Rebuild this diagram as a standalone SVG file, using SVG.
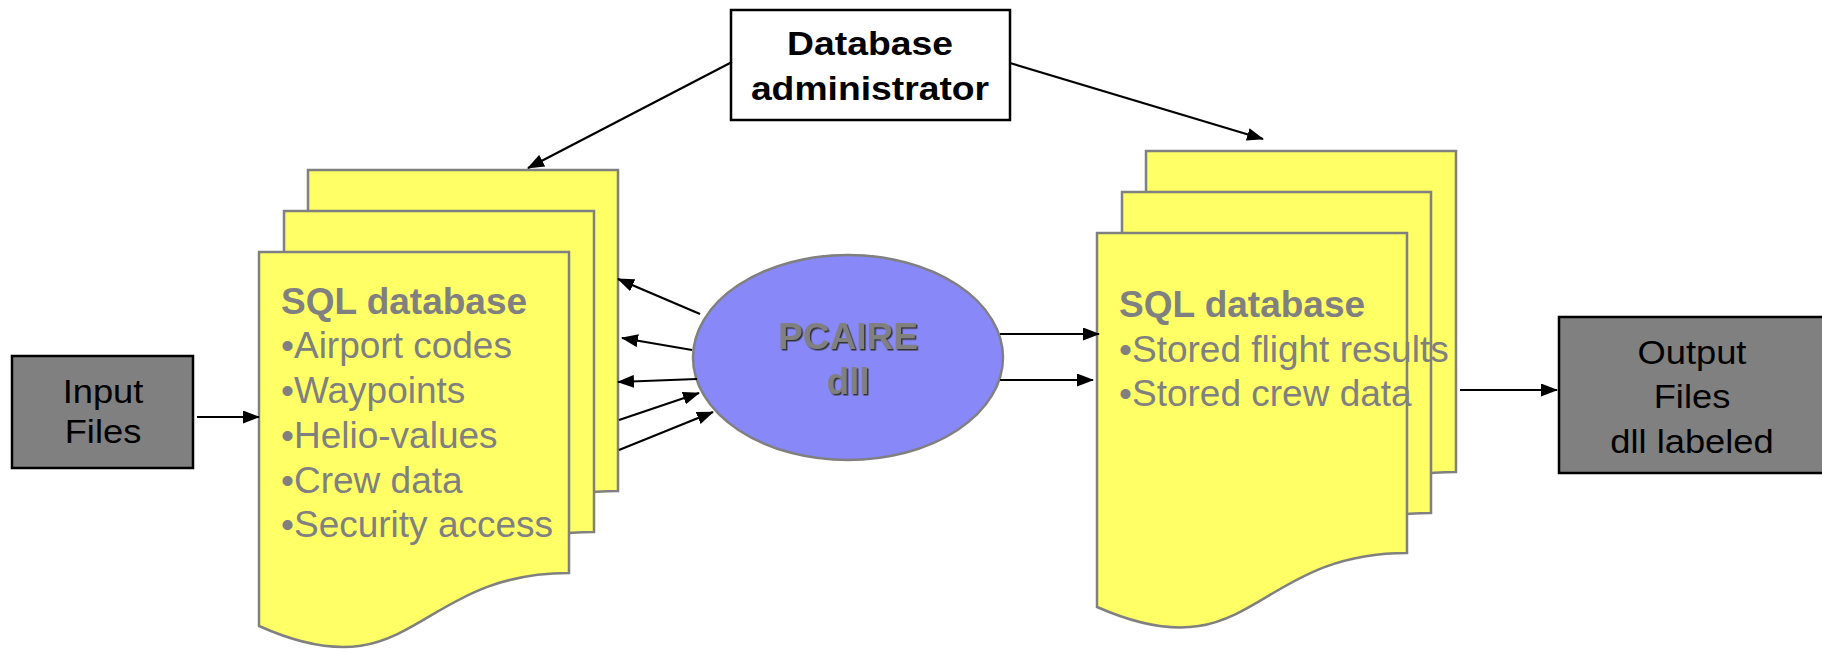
<svg xmlns="http://www.w3.org/2000/svg" width="1822" height="652" viewBox="0 0 1822 652">
<style>
.sheet{fill:#FFFF66;stroke:#808080;stroke-width:2.5}
.gray{fill:#808080;stroke:#000;stroke-width:2.5}
.conn{stroke:#000;stroke-width:2.2;fill:none;marker-end:url(#ah)}
.dbt{font-family:"Liberation Sans",Arial,sans-serif;font-size:37px;fill:#808080}
.b{font-weight:bold}
.lbl{font-family:"Liberation Sans",Arial,sans-serif;font-size:33px;fill:#000;text-anchor:middle}
</style>
<defs>
<marker id="ah" viewBox="0 0 17 13" refX="16" refY="6.5" markerWidth="17" markerHeight="13" orient="auto" markerUnits="userSpaceOnUse">
<path d="M0,0 L17,6.5 L0,13 Z" fill="#000"/>
</marker>
<filter id="sh" x="-10%" y="-10%" width="130%" height="130%">
<feDropShadow dx="1.5" dy="1.5" stdDeviation="0.3" flood-color="#333333" flood-opacity="1"/>
</filter>
</defs>

<g id="admin">
<rect x="731" y="10" width="279" height="110" fill="#fff" stroke="#000" stroke-width="2.5"/>
<text class="lbl b" transform="translate(870,55) scale(1.13,1)" font-size="34">Database</text>
<text class="lbl b" transform="translate(870,100) scale(1.13,1)" font-size="34">administrator</text>
</g>

<g id="sql-left">
<path class="sheet" d="M308,170 H618 V491 C463,491 463,613 308,544 Z"/>
<path class="sheet" d="M284,211 H594 V532 C439,532 439,654 284,585 Z"/>
<path class="sheet" d="M259,252 H569 V573 C414,573 414,695 259,626 Z"/>
<text class="dbt b" x="281" y="314">SQL database</text>
<text class="dbt" x="281" y="358">•Airport codes</text>
<text class="dbt" x="281" y="403">•Waypoints</text>
<text class="dbt" x="281" y="448">•Helio-values</text>
<text class="dbt" x="281" y="493">•Crew data</text>
<text class="dbt" x="281" y="537">•Security access</text>
</g>

<g id="sql-right">
<path class="sheet" d="M1146,151 H1456 V472 C1301,472 1301,594 1146,525 Z"/>
<path class="sheet" d="M1122,192 H1431 V513 C1277,513 1277,635 1122,566 Z"/>
<path class="sheet" d="M1097,233 H1407 V553 C1252,553 1252,675 1097,607 Z"/>
<text class="dbt b" x="1119" y="317">SQL database</text>
<text class="dbt" x="1119" y="362">•Stored flight results</text>
<text class="dbt" x="1119" y="406">•Stored crew data</text>
</g>

<g id="pcaire">
<ellipse cx="848" cy="357.5" rx="155" ry="102.5" fill="#8888F8" stroke="#808080" stroke-width="2.5"/>
<g filter="url(#sh)">
<text class="dbt b" x="848" y="349" text-anchor="middle">PCAIRE</text>
<text class="dbt b" x="848" y="394" text-anchor="middle">dll</text>
</g>
</g>

<g id="input">
<rect class="gray" x="12" y="356" width="181" height="112"/>
<text class="lbl" transform="translate(103,403) scale(1.1,1)">Input</text>
<text class="lbl" transform="translate(103,443) scale(1.1,1)">Files</text>
</g>

<g id="output">
<rect class="gray" x="1559" y="317" width="270" height="156"/>
<text class="lbl" transform="translate(1692,364) scale(1.1,1)">Output</text>
<text class="lbl" transform="translate(1692,408) scale(1.1,1)">Files</text>
<text class="lbl" transform="translate(1692,453) scale(1.1,1)">dll labeled</text>
</g>

<g id="connectors">
<line class="conn" x1="732" y1="62" x2="528" y2="168"/>
<line class="conn" x1="1010" y1="63" x2="1263" y2="139"/>
<line class="conn" x1="700" y1="314" x2="618" y2="279"/>
<line class="conn" x1="692" y1="350" x2="622" y2="338"/>
<line class="conn" x1="697" y1="379" x2="618" y2="382"/>
<line class="conn" x1="619" y1="420" x2="699" y2="393"/>
<line class="conn" x1="619" y1="450" x2="713" y2="412"/>
<line class="conn" x1="1000" y1="334" x2="1099" y2="334"/>
<line class="conn" x1="1000" y1="380" x2="1093" y2="380"/>
<line class="conn" x1="197" y1="417" x2="259" y2="417"/>
<line class="conn" x1="1460" y1="390" x2="1557" y2="390"/>
</g>
</svg>
